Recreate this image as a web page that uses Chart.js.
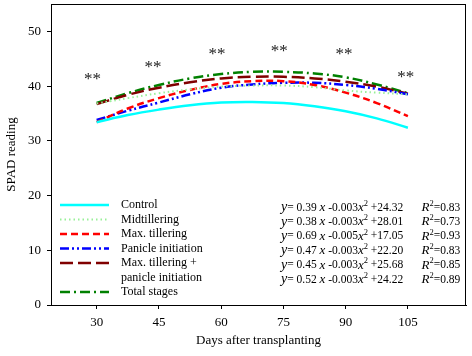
<!DOCTYPE html>
<html><head><meta charset="utf-8">
<script src="https://cdn.jsdelivr.net/npm/chart.js@4/dist/chart.umd.min.js"></script>
<style>html,body{margin:0;padding:0;background:#fff}#wrap{width:472px;height:356px}</style>
</head><body><div id="wrap"><canvas id="c" width="472" height="356"></canvas></div>
<script>
const days = [30, 37.5, 45, 52.5, 60, 67.5, 75, 82.5, 90, 97.5, 105];
const control      = [33.4, 34.7, 35.7, 36.5, 37.0, 37.1, 36.9, 36.3, 35.4, 34.1, 32.4];
const midtillering = [36.8, 37.8, 38.7, 39.4, 39.9, 40.1, 40.1, 39.8, 39.2, 38.8, 38.5];
const maxTillering = [33.4, 35.9, 37.8, 39.3, 40.4, 40.9, 40.9, 40.2, 38.8, 36.9, 34.5];
const panicleInit  = [33.8, 35.5, 37.0, 38.5, 39.7, 40.3, 40.6, 40.6, 40.2, 39.5, 38.5];
const maxTillPI    = [36.7, 38.4, 39.7, 40.7, 41.4, 41.7, 41.7, 41.4, 40.8, 39.9, 38.6];
const totalStages  = [36.9, 38.7, 40.2, 41.4, 42.2, 42.6, 42.6, 42.3, 41.6, 40.3, 38.7];

const seriesNames = [["Control"], ["Midtillering"], ["Max. tillering"], ["Panicle initiation"], ["Max. tillering +", "panicle initiation"], ["Total stages"]];
const xTicks = [30, 45, 60, 75, 90, 105];
const yTicks = [0, 10, 20, 30, 40, 50];

const starDays   = [29, 43.6, 59, 74, 89.6, 104.5];
const starValues = [41.5, 43.7, 46.1, 46.6, 46.1, 41.9];
const starLabels = ["**", "**", "**", "**", "**", "**"];

const linCoef   = ["0.39", "0.38", "0.69", "0.47", "0.45", "0.52"];
const quadCoef  = ["0.003", "0.003", "0.005", "0.003", "0.003", "0.003"];
const intercept = ["24.32", "28.01", "17.05", "22.20", "25.68", "24.22"];
const r2Values  = ["0.83", "0.73", "0.93", "0.83", "0.85", "0.89"];

const SERIF = '"Liberation Serif", "Times New Roman", serif';
const styles = [
  {color: '#00FFFF', dash: [], width: 2.5},
  {color: '#98F098', dash: [1.5, 3], width: 2},
  {color: '#FF0000', dash: [7, 4], width: 2.5},
  {color: '#0000FF', dash: [9, 3, 2, 3, 2, 3], width: 2.5},
  {color: '#800000', dash: [13, 5], width: 2.5},
  {color: '#008000', dash: [10, 4, 2, 4], width: 2.5}
];
const allSeries = [control, midtillering, maxTillering, panicleInit, maxTillPI, totalStages];

const datasets = allSeries.map((vals, i) => ({
  label: seriesNames[i].join(' '),
  data: days.map((d, k) => ({x: d, y: vals[k]})),
  borderColor: styles[i].color,
  borderDash: styles[i].dash,
  borderWidth: styles[i].width,
  pointRadius: 0,
  fill: false,
  tension: 0.4
}));

const overlay = {
  id: 'overlay',
  afterDraw(chart) {
    const ctx = chart.ctx, ca = chart.chartArea;
    const xs = chart.scales.x, ys = chart.scales.y;
    ctx.save();
    // frame
    ctx.strokeStyle = '#000'; ctx.lineWidth = 1; ctx.setLineDash([]);
    ctx.strokeRect(Math.round(ca.left) + 0.5, Math.round(ca.top) + 0.5, Math.round(ca.right - ca.left) - 1, Math.round(ca.bottom - ca.top));
    // stars
    ctx.fillStyle = '#222'; ctx.font = '17px ' + SERIF; ctx.textAlign = 'center'; ctx.textBaseline = 'alphabetic';
    starDays.forEach((d, i) => ctx.fillText(starLabels[i], xs.getPixelForValue(d), ys.getPixelForValue(starValues[i]) + 6));
    // legend
    ctx.textAlign = 'left'; ctx.textBaseline = 'middle'; ctx.font = '12px ' + SERIF; ctx.fillStyle = '#000';
    let line = 0;
    seriesNames.forEach((names, i) => {
      const y = 205 + line * 14.5;
      ctx.strokeStyle = styles[i].color; ctx.lineWidth = styles[i].width; ctx.setLineDash(styles[i].dash);
      ctx.beginPath(); ctx.moveTo(60, y); ctx.lineTo(109, y); ctx.stroke();
      names.forEach((n, j) => { ctx.fillText(n, 121, y + j * 14.5); });
      line += names.length;
    });
    ctx.setLineDash([]);
    // equations
    linCoef.forEach((a, i) => {
      const y = 207.5 + i * 14.4;
      let x = 281;
      const put = (t, font, dy) => { ctx.font = font; ctx.fillText(t, x, y + (dy || 0)); x += ctx.measureText(t).width; };
      put('y', 'italic 14px ' + SERIF);
      put('= ' + a + ' ', '11.5px ' + SERIF);
      put('x', 'italic 13px ' + SERIF);
      put(' -' + quadCoef[i], '11.5px ' + SERIF);
      put('x', 'italic 13px ' + SERIF);
      put('2', '8.5px ' + SERIF, -4);
      put(' +' + intercept[i], '11.5px ' + SERIF);
      x = 421.5;
      put('R', 'italic 13px ' + SERIF);
      put('2', '8.5px ' + SERIF, -4);
      put('=' + r2Values[i], '11.5px ' + SERIF);
    });
    ctx.restore();
  }
};

new Chart(document.getElementById('c'), {
  type: 'line',
  data: {datasets},
  options: {
    responsive: false, animation: false, devicePixelRatio: 1,
    layout: {padding: {top: 4, right: 6, left: 0, bottom: 0}},
    plugins: {legend: {display: false}, tooltip: {enabled: false}},
    scales: {
      x: {
        type: 'linear', min: 19, max: 119,
        afterBuildTicks: s => { s.ticks = xTicks.map(v => ({value: v})); },
        afterFit: s => { s.height = 51; s.paddingLeft = 0; s.paddingRight = 0; },
        grid: {drawOnChartArea: false, drawTicks: true, tickLength: 4, color: '#000'},
        border: {display: true, color: '#000'},
        ticks: {color: '#000', font: {family: SERIF, size: 13}, padding: 6, maxRotation: 0},
        title: {display: true, text: 'Days after transplanting', color: '#000', font: {family: SERIF, size: 13}, padding: {top: 4, bottom: 8}}
      },
      y: {
        type: 'linear', min: 0, max: 55,
        afterBuildTicks: s => { s.ticks = yTicks.map(v => ({value: v})); },
        afterFit: s => { s.width = 51; s.paddingTop = 0; s.paddingBottom = 0; },
        grid: {drawOnChartArea: false, drawTicks: true, tickLength: 4, color: '#000'},
        border: {display: true, color: '#000'},
        ticks: {color: '#000', font: {family: SERIF, size: 13}, padding: 6},
        title: {display: true, text: 'SPAD reading', color: '#000', font: {family: SERIF, size: 13}, padding: {top: 4, bottom: 4}}
      }
    }
  },
  plugins: [overlay]
});
</script></body></html>
